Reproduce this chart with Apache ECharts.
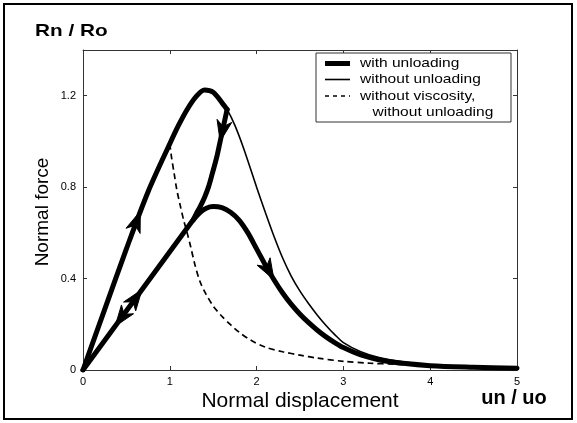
<!DOCTYPE html>
<html><head><meta charset="utf-8">
<script src="https://cdn.jsdelivr.net/npm/echarts@6/dist/echarts.min.js"></script>
<style>html,body{margin:0;padding:0;background:#fff}#c{width:577px;height:423px}</style>
</head><body><div id="c"></div>
<script>
// thin solid curve: "without unloading"
const withoutUnloading = [[0,0],[0.25,0.265],[0.5,0.53],[0.75,0.78],[1.0,0.99],[1.1,1.07],[1.2,1.14],[1.3,1.195],[1.4,1.225],[1.5,1.215],[1.6,1.17],[1.66,1.14],[1.75,1.07],[1.85,0.97],[2.0,0.80],[2.1,0.69],[2.2,0.585],[2.3,0.49],[2.4,0.41],[2.5,0.345],[2.6,0.29],[2.7,0.24],[2.8,0.195],[2.9,0.155],[3.0,0.12],[3.2,0.08],[3.4,0.056],[3.7,0.035],[4.0,0.022],[4.5,0.013],[5.0,0.009]];
// dashed curve: "without viscosity, without unloading"
const withoutViscosity = [[1.0,0.99],[1.02,0.93],[1.05,0.86],[1.08,0.79],[1.12,0.72],[1.16,0.655],[1.2,0.6],[1.24,0.54],[1.29,0.46],[1.35,0.385],[1.42,0.33],[1.5,0.28],[1.6,0.235],[1.7,0.198],[1.8,0.165],[1.93,0.131],[2.1,0.1],[2.3,0.08],[2.5,0.065],[2.7,0.052],[3.0,0.038],[3.3,0.03],[3.6,0.025],[4.0,0.019],[4.5,0.014],[5.0,0.01]];
// thick curve "with unloading": unloading branch, linear branch, reloading branch
const unloadingBranch = [[1.66,1.14],[1.62,1.07],[1.58,1.0],[1.54,0.93],[1.49,0.86],[1.445,0.80],[1.4,0.755],[1.35,0.715],[1.3,0.68],[1.27,0.657]];
const linearBranch = [[0,0],[1.27,0.657]];
const reloadingBranch = [[1.27,0.657],[1.35,0.69],[1.42,0.708],[1.5,0.715],[1.6,0.71],[1.7,0.69],[1.8,0.655],[1.9,0.6],[2.0,0.53],[2.1,0.46],[2.2,0.395],[2.3,0.337],[2.4,0.287],[2.5,0.244],[2.6,0.207],[2.7,0.174],[2.8,0.145],[2.9,0.12],[3.0,0.098],[3.2,0.066],[3.5,0.038],[4.0,0.019],[4.5,0.012],[5.0,0.008]];
// arrows: [tailX, tailY, tipX, tipY]
const arrowMarks = [[0.52,0.55,0.66,0.695],[1.64,1.11,1.58,1.0],[0.52,0.269,0.68,0.352],[0.52,0.269,0.37,0.191],[2.08,0.475,2.2,0.395]];
const legendLabels = ['with unloading','without unloading','without viscosity,','without unloading'];
const yTickLabels = {0:'0',0.4:'0.4',0.8:'0.8',1.2:'1.2'};

const FONT = '"Liberation Sans", Arial, Helvetica, sans-serif';
const loadingBranch = withoutUnloading.filter(p => p[0] <= 1.66);

const chart = echarts.init(document.getElementById('c'));
const lineCol = '#333';
function xAx(pos, labels){
  return {type:'value',min:0,max:5,interval:1,position:pos,
    axisLine:{show:true,onZero:false,lineStyle:{color:lineCol,width:1}},
    axisTick:{show:true,inside:true,length:4,lineStyle:{color:lineCol}},
    axisLabel:{show:labels,margin:6,fontSize:11,color:'#000',fontFamily:FONT},
    splitLine:{show:false}};
}
function yAx(pos, labels){
  return {type:'value',min:0,max:1.4,interval:0.4,position:pos,
    axisLine:{show:true,onZero:false,lineStyle:{color:lineCol,width:1}},
    axisTick:{show:true,inside:true,length:4,lineStyle:{color:lineCol}},
    axisLabel:{show:labels,margin:7,fontSize:11,color:'#000',fontFamily:FONT,
      formatter:v=>{const k=Math.round(v*10)/10; return yTickLabels[k]!==undefined?yTickLabels[k]:'';}},
    splitLine:{show:false}};
}
const thick = {width:5,color:'#000',cap:'round',join:'round'};
function thickSeries(data){
  return {type:'line',data:data,showSymbol:false,smooth:0.3,lineStyle:thick,z:4,silent:true};
}
const option = {
  animation:false,
  grid:{left:83,right:60,top:50,bottom:53,containLabel:false},
  xAxis:[xAx('bottom',true),xAx('top',false)],
  yAxis:[yAx('left',true),yAx('right',false)],
  series:[
    {type:'line',name:'without unloading',data:withoutUnloading,showSymbol:false,smooth:0.3,
      lineStyle:{width:1.6,color:'#000'},z:2,silent:true},
    {type:'line',name:'without viscosity',data:withoutViscosity,showSymbol:false,smooth:0.3,
      lineStyle:{width:1.7,color:'#000',type:[6,4]},z:3,silent:true},
    thickSeries(loadingBranch),
    thickSeries(unloadingBranch),
    {type:'line',data:linearBranch,showSymbol:false,lineStyle:thick,z:4,silent:true},
    thickSeries(reloadingBranch),
    {type:'custom',data:arrowMarks,encode:{x:[0,2],y:[1,3]},z:5,silent:true,
      renderItem:function(params,api){
        const a=api.coord([api.value(0),api.value(1)]);
        const b=api.coord([api.value(2),api.value(3)]);
        const ang=Math.atan2(b[1]-a[1],b[0]-a[0]);
        const L=21,W=7.5,N=15;
        const c=Math.cos(ang),s=Math.sin(ang);
        const pt=(dx,dy)=>[b[0]+dx*c-dy*s,b[1]+dx*s+dy*c];
        return {type:'polygon',shape:{points:[pt(0,0),pt(-L,W),pt(-N,0),pt(-L,-W)]},
          style:{fill:'#000',stroke:'#000',lineWidth:1}};
      }}
  ],
  graphic:[
    {type:'rect',shape:{x:4,y:4,width:568,height:415},style:{fill:'none',stroke:'#000',lineWidth:2},z:100},
    {type:'text',x:35,y:31,scaleX:1.22,style:{text:'Rn / Ro',font:'bold 17px '+FONT,fill:'#000',align:'left',verticalAlign:'middle',textAlign:'left',textVerticalAlign:'middle'}},
    {type:'text',x:514,y:398,style:{text:'un / uo',font:'bold 20px '+FONT,fill:'#000',align:'center',verticalAlign:'middle',textAlign:'center',textVerticalAlign:'middle'}},
    {type:'text',x:300,y:401,style:{text:'Normal displacement',font:'21px '+FONT,fill:'#000',align:'center',verticalAlign:'middle',textAlign:'center',textVerticalAlign:'middle'}},
    {type:'text',x:43,y:212,rotation:Math.PI/2,style:{text:'Normal force',font:'19px '+FONT,fill:'#000',align:'center',verticalAlign:'middle',textAlign:'center',textVerticalAlign:'middle'}},
    {type:'rect',shape:{x:316,y:53,width:195,height:69},style:{fill:'#fff',stroke:'#333',lineWidth:1},z:50},
    {type:'line',shape:{x1:325,y1:63.5,x2:350,y2:63.5},style:{stroke:'#000',lineWidth:5},z:51},
    {type:'line',shape:{x1:325,y1:79.5,x2:350,y2:79.5},style:{stroke:'#000',lineWidth:1.6},z:51},
    {type:'line',shape:{x1:325,y1:96,x2:350,y2:96},style:{stroke:'#000',lineWidth:1.6,lineDash:[4,4]},z:51},
    {type:'text',x:360,y:63.5,scaleX:1.15,z:51,style:{text:legendLabels[0],font:'13.5px '+FONT,fill:'#000',align:'left',verticalAlign:'middle',textAlign:'left',textVerticalAlign:'middle'}},
    {type:'text',x:360,y:79.5,scaleX:1.15,z:51,style:{text:legendLabels[1],font:'13.5px '+FONT,fill:'#000',align:'left',verticalAlign:'middle',textAlign:'left',textVerticalAlign:'middle'}},
    {type:'text',x:360,y:96,scaleX:1.15,z:51,style:{text:legendLabels[2],font:'13.5px '+FONT,fill:'#000',align:'left',verticalAlign:'middle',textAlign:'left',textVerticalAlign:'middle'}},
    {type:'text',x:372.5,y:112.5,scaleX:1.15,z:51,style:{text:legendLabels[3],font:'13.5px '+FONT,fill:'#000',align:'left',verticalAlign:'middle',textAlign:'left',textVerticalAlign:'middle'}}
  ]
};
chart.setOption(option);
</script></body></html>
